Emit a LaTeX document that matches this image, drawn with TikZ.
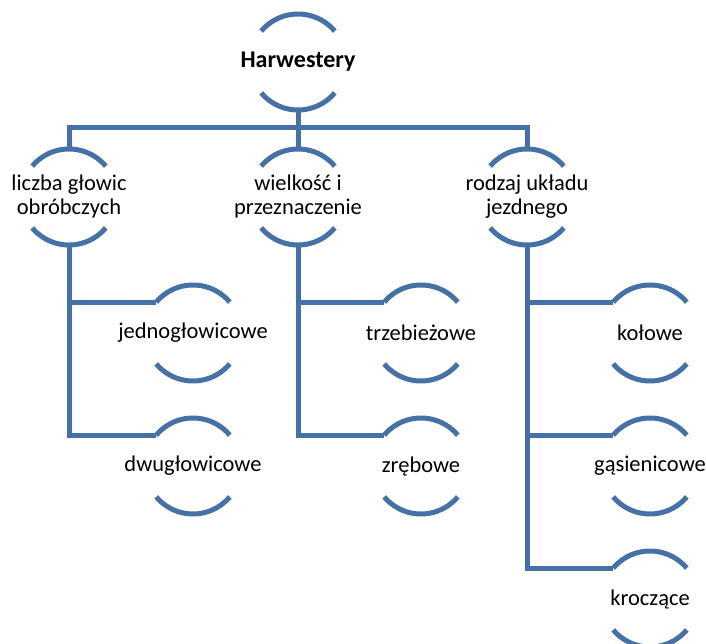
\documentclass[tikz,border=0pt]{standalone}
\usepackage{fontspec}
\setmainfont{Carlito}
\usepackage{tikz}
\definecolor{linkblue}{RGB}{69, 113, 167}

\begin{document}
\begin{tikzpicture}
  [
    x=1pt, y=-1pt,
    hub/.style={circle, minimum size=96pt, inner sep=0pt, outer sep=0pt,
      label={[align=center, font=\fontsize{22.5}{24}\selectfont]center:#1}},
    tophub/.style={circle, minimum size=96pt, inner sep=0pt, outer sep=0pt,
      label={[font=\fontsize{24}{26}\selectfont\bfseries]center:#1}},
    link/.style={line width=5pt, linkblue},
    rim/.style={line width=5pt, linkblue}
  ]
  \useasboundingbox (0,0) rectangle (706,644);

  % nodes
  \node[tophub={Harwestery}] (harw) at (298, 62) {};

  \node[hub={liczba głowic\\obróbczych}] (glow) at (69, 197) {};
  \node[hub={wielkość i\\przeznaczenie}] (wielk) at (298, 197) {};
  \node[hub={rodzaj układu\\jezdnego}] (uklad) at (527, 197) {};

  \node[hub={jednogłowicowe}] (jedno) at (193, 333) {};
  \node[hub={dwugłowicowe}] (dwug) at (193, 466) {};
  \node[hub={trzebieżowe}] (trzeb) at (421, 333) {};
  \node[hub={zrębowe}] (zreb) at (421, 466) {};
  \node[hub={kołowe}] (kolo) at (650, 333) {};
  \node[hub={gąsienicowe}] (gasi) at (650, 466) {};
  \node[hub={kroczące}] (kroc) at (650, 599) {};

  % arcs above and below each node
  \foreach \n in {harw, glow, wielk, uklad, jedno, dwug, trzeb, zreb, kolo, gasi, kroc} {
    \draw[rim] (\n.140) arc[start angle=140, end angle=40, radius=48pt];
    \draw[rim] (\n.220) arc[start angle=220, end angle=320, radius=48pt];
  }

  % connectors
  \draw[link] (harw.south) -- (wielk.north);
  \draw[link] (harw.south) -- ++(0,18) -| (glow.north);
  \draw[link] (harw.south) -- ++(0,18) -| (uklad.north);

  \draw[link] (glow.south) |- (jedno.140);
  \draw[link] (glow.south) |- (dwug.140);
  \draw[link] (wielk.south) |- (trzeb.140);
  \draw[link] (wielk.south) |- (zreb.140);
  \draw[link] (uklad.south) |- (kolo.140);
  \draw[link] (uklad.south) |- (gasi.140);
  \draw[link] (uklad.south) |- (kroc.140);
\end{tikzpicture}
\end{document}
